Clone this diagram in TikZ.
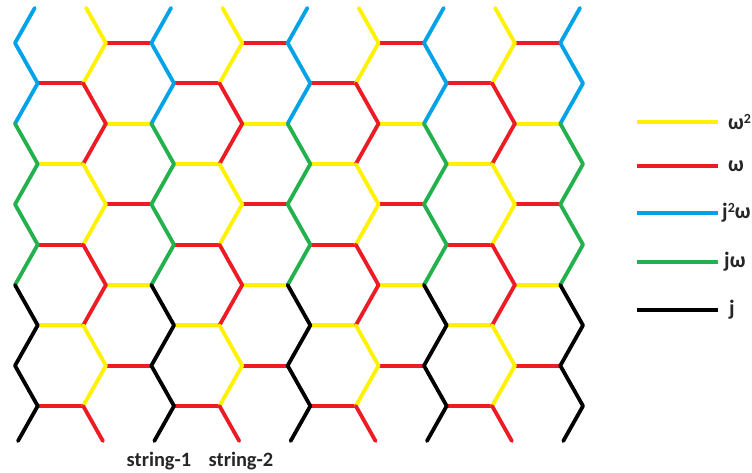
\documentclass[tikz,border=0pt]{standalone}
\usepackage{fontspec}
\setmainfont{Carlito}
\usetikzlibrary{calc}
\definecolor{cyel}{RGB}{255,242,0}
\definecolor{cred}{RGB}{237,28,36}
\definecolor{cblu}{RGB}{0,162,232}
\definecolor{cgrn}{RGB}{34,177,76}
\newcommand{\supn}[1]{\raisebox{0.55ex}{\fontsize{14}{14}\selectfont #1}}
\begin{document}
\begin{tikzpicture}[x=1bp,y=-1bp,
  edge/.style={line width=3.8bp, line cap=round, line join=round},
  lab/.style={font=\bfseries\fontsize{20.5}{24}\selectfont, inner sep=0pt, text=black!85},
  leglab/.style={font=\bfseries\fontsize{22}{26}\selectfont, inner sep=0pt, text=black!85, anchor=west}]
\useasboundingbox (0,0) rectangle (752,473);
% lattice vertices: zigzag j, row r
\foreach \j in {0,...,8}{
  \foreach \r in {0,...,11}{
    \pgfmathtruncatemacro\xi{3*\j+mod(mod(\j,2)+mod(\r,2)+1,2)}
    \coordinate (z-\j-\r) at (15+22.72*\xi, 43+40.33*\r-40.33);
  }
  \coordinate (t-\j) at ($(z-\j-1)!0.87!(z-\j-0)$);
  \coordinate (b-\j) at ($(z-\j-10)!0.87!(z-\j-11)$);
}
% horizontal edges
\foreach \r/\c in {1/cred,3/cyel,5/cred,7/cyel,9/cred}
  \foreach \j in {1,3,5,7}{
    \pgfmathtruncatemacro\k{\j+1}
    \draw[edge,\c] (z-\j-\r) -- (z-\k-\r);
  }
\foreach \r/\c in {2/cred,4/cyel,6/cred,8/cyel,10/cred}
  \foreach \j in {0,2,4,6}{
    \pgfmathtruncatemacro\k{\j+1}
    \draw[edge,\c] (z-\j-\r) -- (z-\k-\r);
  }
% zigzag columns
\foreach \j in {0,2,4,6,8}{
  \draw[edge,cblu] (t-\j) -- (z-\j-1) -- (z-\j-2) -- (z-\j-3);
  \draw[edge,cgrn] (z-\j-3) -- (z-\j-4) -- (z-\j-5) -- (z-\j-6) -- (z-\j-7);
  \draw[edge,black] (z-\j-7) -- (z-\j-8) -- (z-\j-9) -- (z-\j-10) -- (b-\j);
}
\foreach \j in {1,3,5,7}{
  \draw[edge,cyel] (t-\j) -- (z-\j-1) -- (z-\j-2);
  \draw[edge,cred] (z-\j-2) -- (z-\j-3) -- (z-\j-4);
  \draw[edge,cyel] (z-\j-4) -- (z-\j-5) -- (z-\j-6);
  \draw[edge,cred] (z-\j-6) -- (z-\j-7) -- (z-\j-8);
  \draw[edge,cyel] (z-\j-8) -- (z-\j-9) -- (z-\j-10);
  \draw[edge,cred] (z-\j-10) -- (b-\j);
}
% string labels
\node[lab] (s1) at (159,461) {string-1};
\node[lab] (s2) at (241,461) {string-2};
% legend
\foreach \n/\y/\c in {1/122/cyel, 2/166/cred, 3/213/cblu, 4/262/cgrn, 5/310/black}{
  \coordinate (la\n) at (637,\y);
  \coordinate (lb\n) at (718,\y);
  \draw[line width=3.8bp,\c] (la\n) -- (lb\n);
}
\node[leglab] (lt1) at (728,122) {ω\supn{2}};
\node[leglab] (lt2) at (728,166) {ω};
\node[leglab] (lt3) at (722,213) {j\supn{2}ω};
\node[leglab] (lt4) at (724,262) {jω};
\node[leglab] (lt5) at (729,310) {j};
\end{tikzpicture}
\end{document}
